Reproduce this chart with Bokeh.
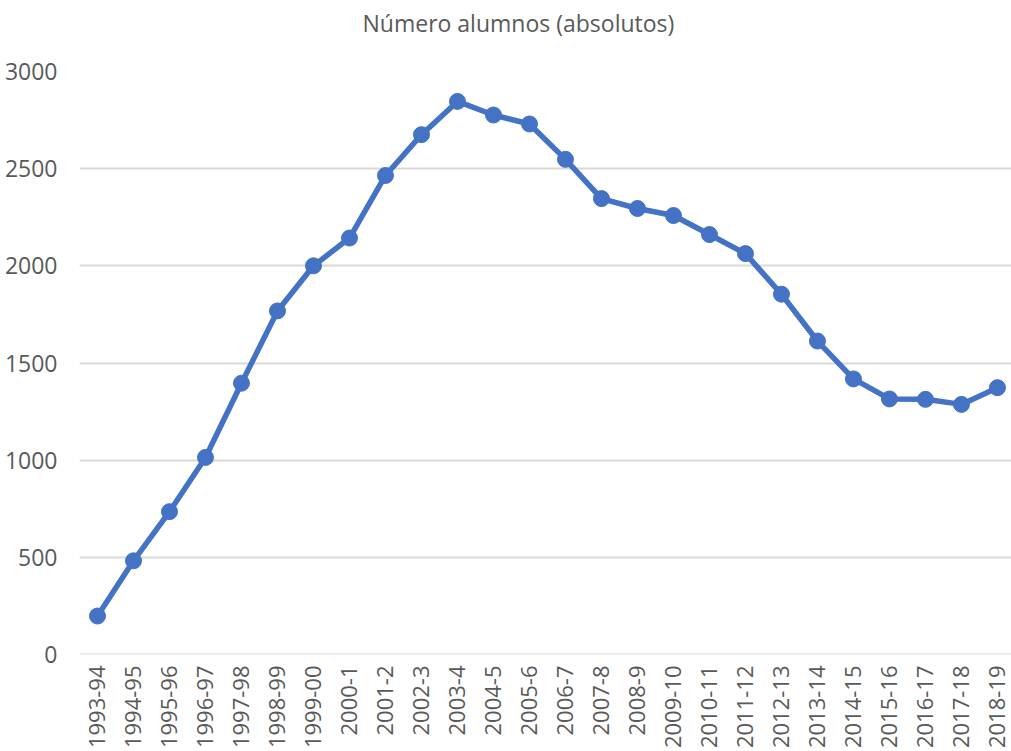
import math
from bokeh.plotting import figure
from bokeh.models import Range1d, FixedTicker, ColumnDataSource, Span, Title
from bokeh.embed import file_html
from bokeh.resources import INLINE

categories = ["1993-94", "1994-95", "1995-96", "1996-97", "1997-98", "1998-99",
              "1999-00", "2000-1", "2001-2", "2002-3", "2003-4", "2004-5",
              "2005-6", "2006-7", "2007-8", "2008-9", "2009-10", "2010-11",
              "2011-12", "2012-13", "2013-14", "2014-15", "2015-16", "2016-17",
              "2017-18", "2018-19"]
alumnos = [198, 482, 735, 1014, 1396, 1768, 2000, 2143, 2465, 2675, 2846, 2776,
           2730, 2548, 2346, 2295, 2259, 2161, 2063, 1854, 1613, 1418, 1315,
           1313, 1287, 1373]
y_ticks = [0, 500, 1000, 1500, 2000, 2500, 3000]
title_text = "Número alumnos (absolutos)"

FONT = "Open Sans"
GREY = "#595959"
BLUE = "#4472C4"
FS = "23px"

x_idx = list(range(len(categories)))
src = ColumnDataSource(dict(x=x_idx, y=alumnos, cat=categories))

p = figure(title=None, width=1011, height=751, output_backend="svg",
           toolbar_location=None,
           x_range=Range1d(-0.5, 25.39), y_range=Range1d(0, 3000),
           min_border_left=79, min_border_right=0, min_border_top=71,
           min_border_bottom=96)

p.add_layout(Span(location=y_ticks[0], dimension="width",
                  line_color="#D9D9D9", line_width=2))
p.line("x", "y", source=src, line_color=BLUE, line_width=5.5)
p.scatter("x", "y", source=src, size=16, fill_color=BLUE, line_color=BLUE)

# spacer between the frame and the title (closest to the frame)
p.add_layout(Title(text=" ", text_font_size="1px", standoff=24), "above")
# the chart title (outermost)
p.add_layout(Title(text=title_text, align="left", offset=283, standoff=10,
                   vertical_align="middle", text_font=FONT,
                   text_font_size=FS, text_font_style="normal",
                   text_color=GREY), "above")

p.outline_line_color = None
p.background_fill_color = "white"
p.border_fill_color = "white"
p.xgrid.grid_line_color = None
p.ygrid.grid_line_color = "#D9D9D9"
p.ygrid.grid_line_width = 2

for ax in (p.xaxis, p.yaxis):
    ax.axis_line_color = None
    ax.major_tick_line_color = None
    ax.minor_tick_line_color = None
    ax.major_tick_out = 0
    ax.major_tick_in = 0
    ax.minor_tick_out = 0
    ax.minor_tick_in = 0
    ax.major_label_text_font = FONT
    ax.major_label_text_font_size = FS
    ax.major_label_text_color = GREY

p.xaxis.ticker = FixedTicker(ticks=x_idx)
p.xaxis.major_label_overrides = {i: c for i, c in enumerate(categories)}
p.xaxis.major_label_orientation = math.pi / 2
p.xaxis.major_label_standoff = 11
p.xaxis.major_label_text_font_size = "22px"

p.yaxis.ticker = FixedTicker(ticks=y_ticks)
p.yaxis.major_label_standoff = 22

open("out.html", "w").write(file_html(p, INLINE))
